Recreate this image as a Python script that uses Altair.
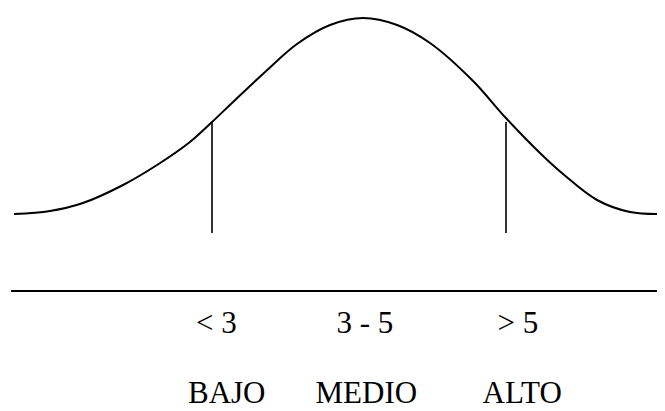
import altair as alt
import pandas as pd

# Bell curve (x in score units, h = height above the base line)
curve_x = [1.653, 1.898, 2.122, 2.395, 2.626, 2.850, 3.000, 3.136, 3.361, 3.578,
           3.803, 4.027, 4.259, 4.483, 4.776, 4.993, 5.231, 5.388, 5.619, 5.844, 6.068]
curve_h = [77, 80, 88, 106, 126, 149, 169, 188, 219, 247,
           266, 273, 266, 248, 210, 174, 138, 117, 91, 79, 77]

# Cut points
cut_x = [3, 5]
cut_top = [169, 169]
cut_bottom = [58, 58]

# Base line
base_from = [1.633]
base_to = [6.09]
base_h = [0]

# Labels
range_labels = ["< 3", "3 - 5", "> 5"]
range_x = [3.03, 4.04, 5.08]
range_h = [-42, -42, -42]
level_labels = ["BAJO", "MEDIO", "ALTO"]
level_x = [3.10, 4.05, 5.11]
level_h = [-112, -112, -112]

X_DOMAIN = [1.6122, 6.0272]
Y_DOMAIN = [-120, 283]

FONT = "Liberation Serif, DejaVu Serif, Noto Serif, serif"

xs = alt.Scale(domain=X_DOMAIN, nice=False, zero=False)
ys = alt.Scale(domain=Y_DOMAIN, nice=False, zero=False)

curve_df = pd.DataFrame({"x": curve_x, "h": curve_h})
cut_df = pd.DataFrame({"x": cut_x, "top": cut_top, "bottom": cut_bottom})
base_df = pd.DataFrame({"x": base_from, "x2": base_to, "h": base_h})
labels_df = pd.DataFrame({
    "label": range_labels + level_labels,
    "x": range_x + level_x,
    "h": range_h + level_h,
})

curve = alt.Chart(curve_df).mark_line(
    color="black", strokeWidth=2, interpolate="catmull-rom"
).encode(
    x=alt.X("x:Q", scale=xs, axis=None),
    y=alt.Y("h:Q", scale=ys, axis=None),
)

cuts = alt.Chart(cut_df).mark_rule(color="black", strokeWidth=1.6).encode(
    x=alt.X("x:Q", scale=xs, axis=None),
    y=alt.Y("top:Q", scale=ys, axis=None),
    y2="bottom:Q",
)

base = alt.Chart(base_df).mark_rule(color="black", strokeWidth=2).encode(
    x=alt.X("x:Q", scale=xs, axis=None),
    x2="x2:Q",
    y=alt.Y("h:Q", scale=ys, axis=None),
)

labels = alt.Chart(labels_df).mark_text(
    font=FONT, fontSize=31, color="black",
    align="center", baseline="alphabetic",
).encode(
    x=alt.X("x:Q", scale=xs, axis=None),
    y=alt.Y("h:Q", scale=ys, axis=None),
    text="label:N",
)

chart = alt.layer(curve, cuts, base, labels).properties(
    width=649, height=403, padding=0,
    autosize=alt.AutoSizeParams(type="none"),
    background="white",
).configure(font=FONT).configure_text(font=FONT).configure_view(stroke=None)

chart.save("out.html", embed_options={"renderer": "svg", "actions": False})
